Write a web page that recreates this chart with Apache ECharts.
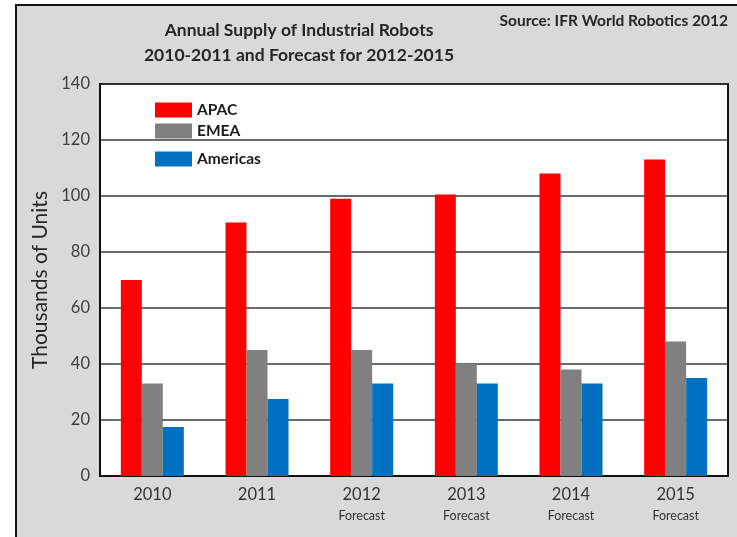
<!DOCTYPE html>
<html>
<head>
<meta charset="utf-8">
<script src="https://cdn.jsdelivr.net/npm/echarts@6/dist/echarts.min.js"></script>
<style>
  html, body { margin: 0; padding: 0; background: #ffffff; }
  #chart { width: 737px; height: 537px; }
</style>
</head>
<body>
<div id="chart"></div>
<script>
// Annual supply of industrial robots, thousands of units
const years = ['2010', '2011', '2012', '2013', '2014', '2015'];
const isForecast = [false, false, true, true, true, true];
const apac = [70, 90.5, 99, 100.5, 108, 113];
const emea = [33, 45, 45, 40, 38, 48];
const americas = [17.5, 27.5, 33, 33, 33, 35];
const yTicks = [0, 20, 40, 60, 80, 100, 120, 140];

const FONT = 'Lato, "Open Sans", sans-serif';
const chart = echarts.init(document.getElementById('chart'), null, { renderer: 'canvas' });

const legendBase = {
  orient: 'vertical',
  left: 150,
  itemWidth: 37,
  itemHeight: 15,
  itemGap: 6,
  icon: 'rect',
  textStyle: { fontFamily: FONT, fontSize: 15.5, fontWeight: 'bold', color: '#1a1a1a' }
};

chart.setOption({
  backgroundColor: '#ffffff',
  animation: false,
  graphic: [
    {
      type: 'rect',
      z: -10,
      shape: { x: 16, y: 5, width: 740, height: 560 },
      style: { fill: '#d9d9d9', stroke: '#111111', lineWidth: 2 }
    },
    {
      type: 'text',
      z: 10,
      x: 299,
      y: 18,
      style: {
        text: 'Annual Supply of Industrial Robots\n2010-2011 and Forecast for 2012-2015',
        fill: '#262626',
        font: 'bold 17.5px ' + FONT,
        align: 'center',
        lineHeight: 25
      }
    },
    {
      type: 'text',
      right: 9,
      top: 13,
      style: {
        text: 'Source: IFR World Robotics 2012',
        fill: '#262626',
        font: 'bold 15.5px ' + FONT
      }
    }
  ],
  legend: [
    Object.assign({}, legendBase, { top: 97, data: ['APAC'] }),
    Object.assign({}, legendBase, { top: 118, data: ['EMEA'] }),
    Object.assign({}, legendBase, { top: 146, data: ['Americas'] })
  ],
  grid: {
    left: 100,
    right: 9,
    top: 84,
    bottom: 61,
    show: true,
    backgroundColor: '#ffffff',
    borderColor: '#111111',
    borderWidth: 2
  },
  xAxis: {
    type: 'category',
    data: years,
    axisTick: { show: false },
    axisLine: { lineStyle: { color: '#111111', width: 2 } },
    axisLabel: {
      margin: 8,
      interval: 0,
      fontFamily: FONT,
      fontSize: 16.5,
      color: '#333333',
      lineHeight: 22,
      formatter: function (v, i) {
        return isForecast[i] ? v + '\n{f|Forecast}' : v;
      },
      rich: {
        f: { fontFamily: FONT, fontSize: 12.5, color: '#333333', lineHeight: 20 }
      }
    }
  },
  yAxis: {
    type: 'value',
    min: yTicks[0],
    max: yTicks[yTicks.length - 1],
    interval: yTicks[1] - yTicks[0],
    name: 'Thousands of Units',
    nameLocation: 'middle',
    nameGap: 45,
    nameTextStyle: { fontFamily: FONT, fontSize: 21, color: '#262626' },
    axisLine: { show: true, lineStyle: { color: '#111111', width: 2 } },
    axisTick: { show: false },
    axisLabel: { fontFamily: FONT, fontSize: 16.5, color: '#404040', margin: 10 },
    splitLine: { lineStyle: { color: '#3a3a3a', width: 1.5 } }
  },
  series: [
    { name: 'APAC', type: 'bar', data: apac, barWidth: 21, barGap: '0%', itemStyle: { color: '#ff0000' } },
    { name: 'EMEA', type: 'bar', data: emea, barWidth: 21, barGap: '0%', itemStyle: { color: '#808080' } },
    { name: 'Americas', type: 'bar', data: americas, barWidth: 21, barGap: '0%', itemStyle: { color: '#0070c0' } }
  ]
});
</script>
</body>
</html>
